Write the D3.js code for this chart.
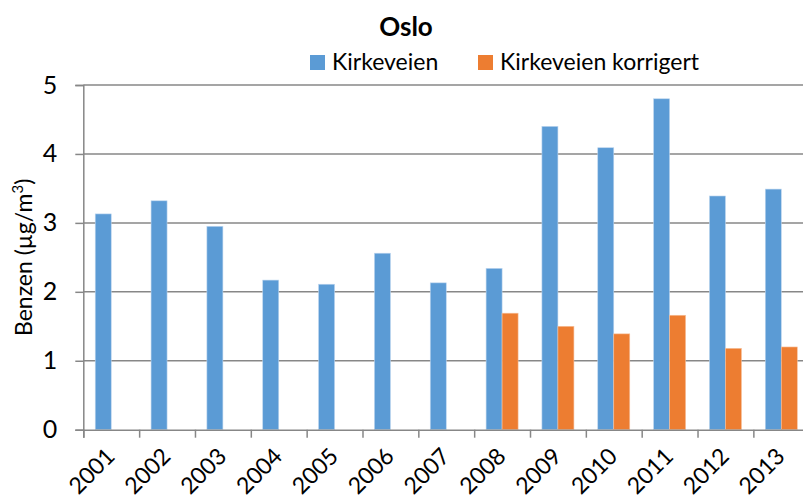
<!DOCTYPE html>
<html>
<head>
<meta charset="utf-8">
<script src="https://cdn.jsdelivr.net/npm/d3@7"></script>
<style>
  body { margin: 0; background: #fff; }
  svg { display: block; font-family: Lato, "Open Sans", sans-serif; }
</style>
</head>
<body>
<div id="rootDiv"></div>
<script>
const years = ["2001", "2002", "2003", "2004", "2005", "2006", "2007", "2008", "2009", "2010", "2011", "2012", "2013"]
const kirkeveien = [3.13, 3.32, 2.95, 2.17, 2.11, 2.56, 2.13, 2.34, 4.40, 4.09, 4.80, 3.39, 3.49]
const korrigert = [null, null, null, null, null, null, null, 1.69, 1.50, 1.39, 1.66, 1.18, 1.20]
const seriesNames = ["Kirkeveien", "Kirkeveien korrigert"]
const yTicks = [0, 1, 2, 3, 4, 5]

const colors = ["#5b9bd5", "#ed7d31"]
const grey = "#878787"

const width = 803
const height = 499
const plot = { left: 83.3, right: 809.2, top: 85, bottom: 429.7 }

const svg = d3.select("#rootDiv")
    .append("svg")
    .attr("width", width)
    .attr("height", height)

const x = d3.scaleBand()
    .domain(years)
    .range([plot.left, plot.right])
    .paddingInner(0.427)
    .paddingOuter(0.2135)

const xEdge = d3.scaleLinear()
    .domain([0, years.length])
    .range([plot.left, plot.right])

const inner = d3.scaleBand()
    .domain([0, 1])
    .range([0, x.bandwidth()])

const y = d3.scaleLinear()
    .domain([0, 5])
    .range([plot.bottom, plot.top])

// gridlines
svg.append("g")
    .selectAll("line")
    .data(yTicks.slice(1))
    .enter()
    .append("line")
    .attr("x1", plot.left)
    .attr("x2", width)
    .attr("y1", d => y(d))
    .attr("y2", d => y(d))
    .attr("stroke", grey)
    .attr("stroke-width", 1.5)

// bars
const series = [kirkeveien, korrigert]
series.forEach((vals, s) => {
    svg.append("g")
        .selectAll("rect")
        .data(vals.map((v, i) => ({ year: years[i], v })).filter(d => d.v != null))
        .enter()
        .append("rect")
        .attr("x", d => x(d.year) + inner(s))
        .attr("y", d => y(d.v))
        .attr("width", inner.bandwidth())
        .attr("height", d => y(0) - y(d.v))
        .attr("fill", colors[s])
        .attr("stroke", s === 0 ? "#bcd5ee" : "#f6c09c")
        .attr("stroke-width", 0.6)
})

// y axis
const yAxis = svg.append("g")
    .attr("transform", `translate(${plot.left},0)`)
    .call(d3.axisLeft(y).tickValues(yTicks).tickSize(8).tickPadding(18).tickFormat(d3.format("d")))

// x axis: ticks at category edges
const xAxis = svg.append("g")
    .attr("transform", `translate(0,${plot.bottom})`)
    .call(d3.axisBottom(xEdge).tickValues(d3.range(years.length + 1)).tickSize(8).tickFormat(""))

for (const axis of [yAxis, xAxis]) {
    axis.select(".domain").attr("stroke", grey).attr("stroke-width", 1.5)
    axis.selectAll("line").attr("stroke", grey).attr("stroke-width", 1.5)
}
yAxis.selectAll("text")
    .style("font-size", "25px")
    .style("font-family", "Lato, sans-serif")
    .attr("fill", "#000")

// x labels, rotated
svg.append("g")
    .selectAll("text")
    .data(years)
    .enter()
    .append("text")
    .attr("transform", d => `translate(${x(d) + x.bandwidth() / 2 + 5},${plot.bottom + 28}) rotate(-45)`)
    .attr("text-anchor", "end")
    .style("font-size", "23px")
    .attr("fill", "#000")
    .text(d => d)

// y axis title
const yTitle = svg.append("text")
    .attr("transform", `translate(32,${(plot.top + plot.bottom) / 2}) rotate(-90)`)
    .attr("text-anchor", "middle")
    .style("font-size", "23px")
    .attr("fill", "#000")
yTitle.append("tspan").text("Benzen (µg/m")
yTitle.append("tspan").attr("dy", -9).style("font-size", "15px").text("3")
yTitle.append("tspan").attr("dy", 9).text(")")

// title
svg.append("text")
    .attr("x", 406)
    .attr("y", 36)
    .attr("text-anchor", "middle")
    .style("font-size", "26px")
    .style("font-weight", "bold")
    .attr("fill", "#000")
    .text("Oslo")

// legend
const legendX = [310, 478]
seriesNames.forEach((name, s) => {
    svg.append("rect")
        .attr("x", legendX[s])
        .attr("y", 55)
        .attr("width", 15)
        .attr("height", 15)
        .attr("fill", colors[s])
    svg.append("text")
        .attr("x", legendX[s] + 22)
        .attr("y", 70)
        .style("font-size", "23px")
        .attr("fill", "#000")
        .text(name)
})
</script>
</body>
</html>
